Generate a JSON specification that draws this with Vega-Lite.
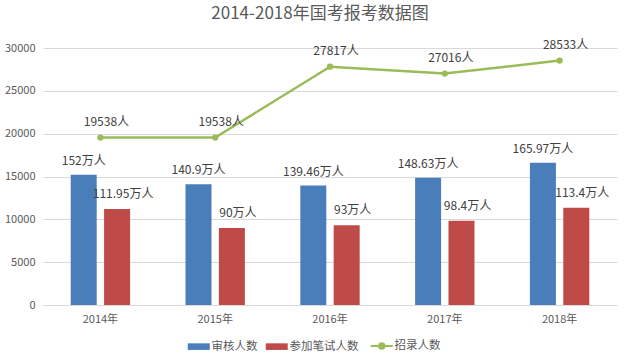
{
  "$schema": "https://vega.github.io/schema/vega-lite/v6.json",
  "width": 574,
  "height": 257,
  "autosize": {"type": "none"},
  "padding": {"left": 43, "top": 48, "right": 21, "bottom": 59},
  "background": "white",
  "config": {
    "font": "Noto Sans CJK SC",
    "view": {"stroke": null}
  },
  "title": {
    "text": "2014-2018年国考报考数据图",
    "fontSize": 17,
    "fontWeight": "normal",
    "color": "#595959",
    "anchor": "middle",
    "offset": 16,
    "dx": -10
  },
  "data": {
    "values": [
      {"year": "2014年", "series": "审核人数", "value": 15200, "label": "152万人"},
      {"year": "2015年", "series": "审核人数", "value": 14090, "label": "140.9万人"},
      {"year": "2016年", "series": "审核人数", "value": 13946, "label": "139.46万人"},
      {"year": "2017年", "series": "审核人数", "value": 14863, "label": "148.63万人"},
      {"year": "2018年", "series": "审核人数", "value": 16597, "label": "165.97万人"},
      {"year": "2014年", "series": "参加笔试人数", "value": 11195, "label": "111.95万人"},
      {"year": "2015年", "series": "参加笔试人数", "value": 9000, "label": "90万人"},
      {"year": "2016年", "series": "参加笔试人数", "value": 9300, "label": "93万人"},
      {"year": "2017年", "series": "参加笔试人数", "value": 9840, "label": "98.4万人"},
      {"year": "2018年", "series": "参加笔试人数", "value": 11340, "label": "113.4万人"},
      {"year": "2014年", "series": "招录人数", "value": 19538, "label": "19538人"},
      {"year": "2015年", "series": "招录人数", "value": 19538, "label": "19538人"},
      {"year": "2016年", "series": "招录人数", "value": 27817, "label": "27817人"},
      {"year": "2017年", "series": "招录人数", "value": 27016, "label": "27016人"},
      {"year": "2018年", "series": "招录人数", "value": 28533, "label": "28533人"}
    ]
  },
  "encoding": {
    "x": {
      "field": "year",
      "type": "nominal",
      "sort": null,
      "title": null,
      "scale": {"paddingInner": 0, "paddingOuter": 0},
      "axis": {
        "labelAngle": 0,
        "ticks": false,
        "domainColor": "#d9d9d9",
        "labelColor": "#595959",
        "labelFontSize": 11,
        "labelPadding": 8
      }
    },
    "y": {
      "field": "value",
      "type": "quantitative",
      "title": null,
      "scale": {"domain": [0, 30000]},
      "axis": {
        "values": [0, 5000, 10000, 15000, 20000, 25000, 30000],
        "format": "d",
        "domain": false,
        "ticks": false,
        "gridColor": "#d9d9d9",
        "labelColor": "#595959",
        "labelFontSize": 11,
        "labelPadding": 8
      }
    },
    "color": {
      "field": "series",
      "type": "nominal",
      "scale": {
        "domain": ["审核人数", "参加笔试人数", "招录人数"],
        "range": ["#4a7ebb", "#be4b48", "#9bbb59"]
      },
      "legend": {
        "title": null,
        "orient": "none",
        "direction": "horizontal",
        "legendX": 150,
        "legendY": 292,
        "labelFontSize": 11.5,
        "labelColor": "#595959",
        "symbolSize": 484,
        "symbolType": "M-1,-0.3H1V0.3H-1Z",
        "columnPadding": 7,
        "labelOffset": 7,
        "encode": {
          "symbols": {
            "update": {
              "shape": {"signal": "datum.value === '招录人数' ? 'M-1,0H1M0.25,0A0.25,0.25 0 1,1 -0.25,0A0.25,0.25 0 1,1 0.25,0Z' : 'M-1,-0.3H1V0.3H-1Z'"},
              "fill": {"scale": "color", "field": "value"},
              "stroke": {"scale": "color", "field": "value"},
              "strokeWidth": {"signal": "datum.value === '招录人数' ? 2 : 0"},
              "opacity": {"value": 1},
              "fillOpacity": {"value": 1}
            }
          }
        }
      }
    }
  },
  "layer": [
    {
      "transform": [{"filter": "datum.series !== '招录人数'"}],
      "mark": {"type": "bar", "width": 26},
      "encoding": {
        "xOffset": {
          "field": "series",
          "sort": ["审核人数", "参加笔试人数"],
          "scale": {"domain": ["审核人数", "参加笔试人数"], "paddingInner": 0.22, "paddingOuter": 0.83}
        }
      }
    },
    {
      "transform": [{"filter": "datum.series === '审核人数'"}],
      "mark": {"type": "text", "baseline": "bottom", "dy": -7, "fontSize": 12, "color": "#404040"},
      "encoding": {
        "xOffset": {
          "field": "series",
          "scale": {"domain": ["审核人数", "参加笔试人数"], "paddingInner": 0.22, "paddingOuter": 0.83}
        },
        "text": {"field": "label"},
        "color": {"value": "#404040"}
      }
    },
    {
      "transform": [{"filter": "datum.series === '参加笔试人数'"}],
      "mark": {"type": "text", "baseline": "bottom", "dy": -8, "dx": 6, "fontSize": 12, "color": "#404040"},
      "encoding": {
        "xOffset": {
          "field": "series",
          "scale": {"domain": ["审核人数", "参加笔试人数"], "paddingInner": 0.22, "paddingOuter": 0.83}
        },
        "text": {"field": "label"},
        "color": {"value": "#404040"}
      }
    },
    {
      "transform": [{"filter": "datum.series === '招录人数'"}],
      "mark": {"type": "line", "strokeWidth": 2.5, "point": {"filled": true, "size": 40}},
      "encoding": {}
    },
    {
      "transform": [{"filter": "datum.series === '招录人数'"}],
      "mark": {"type": "text", "baseline": "bottom", "dy": -9, "dx": 6, "fontSize": 12, "color": "#404040"},
      "encoding": {
        "text": {"field": "label"},
        "color": {"value": "#404040"}
      }
    }
  ]
}
